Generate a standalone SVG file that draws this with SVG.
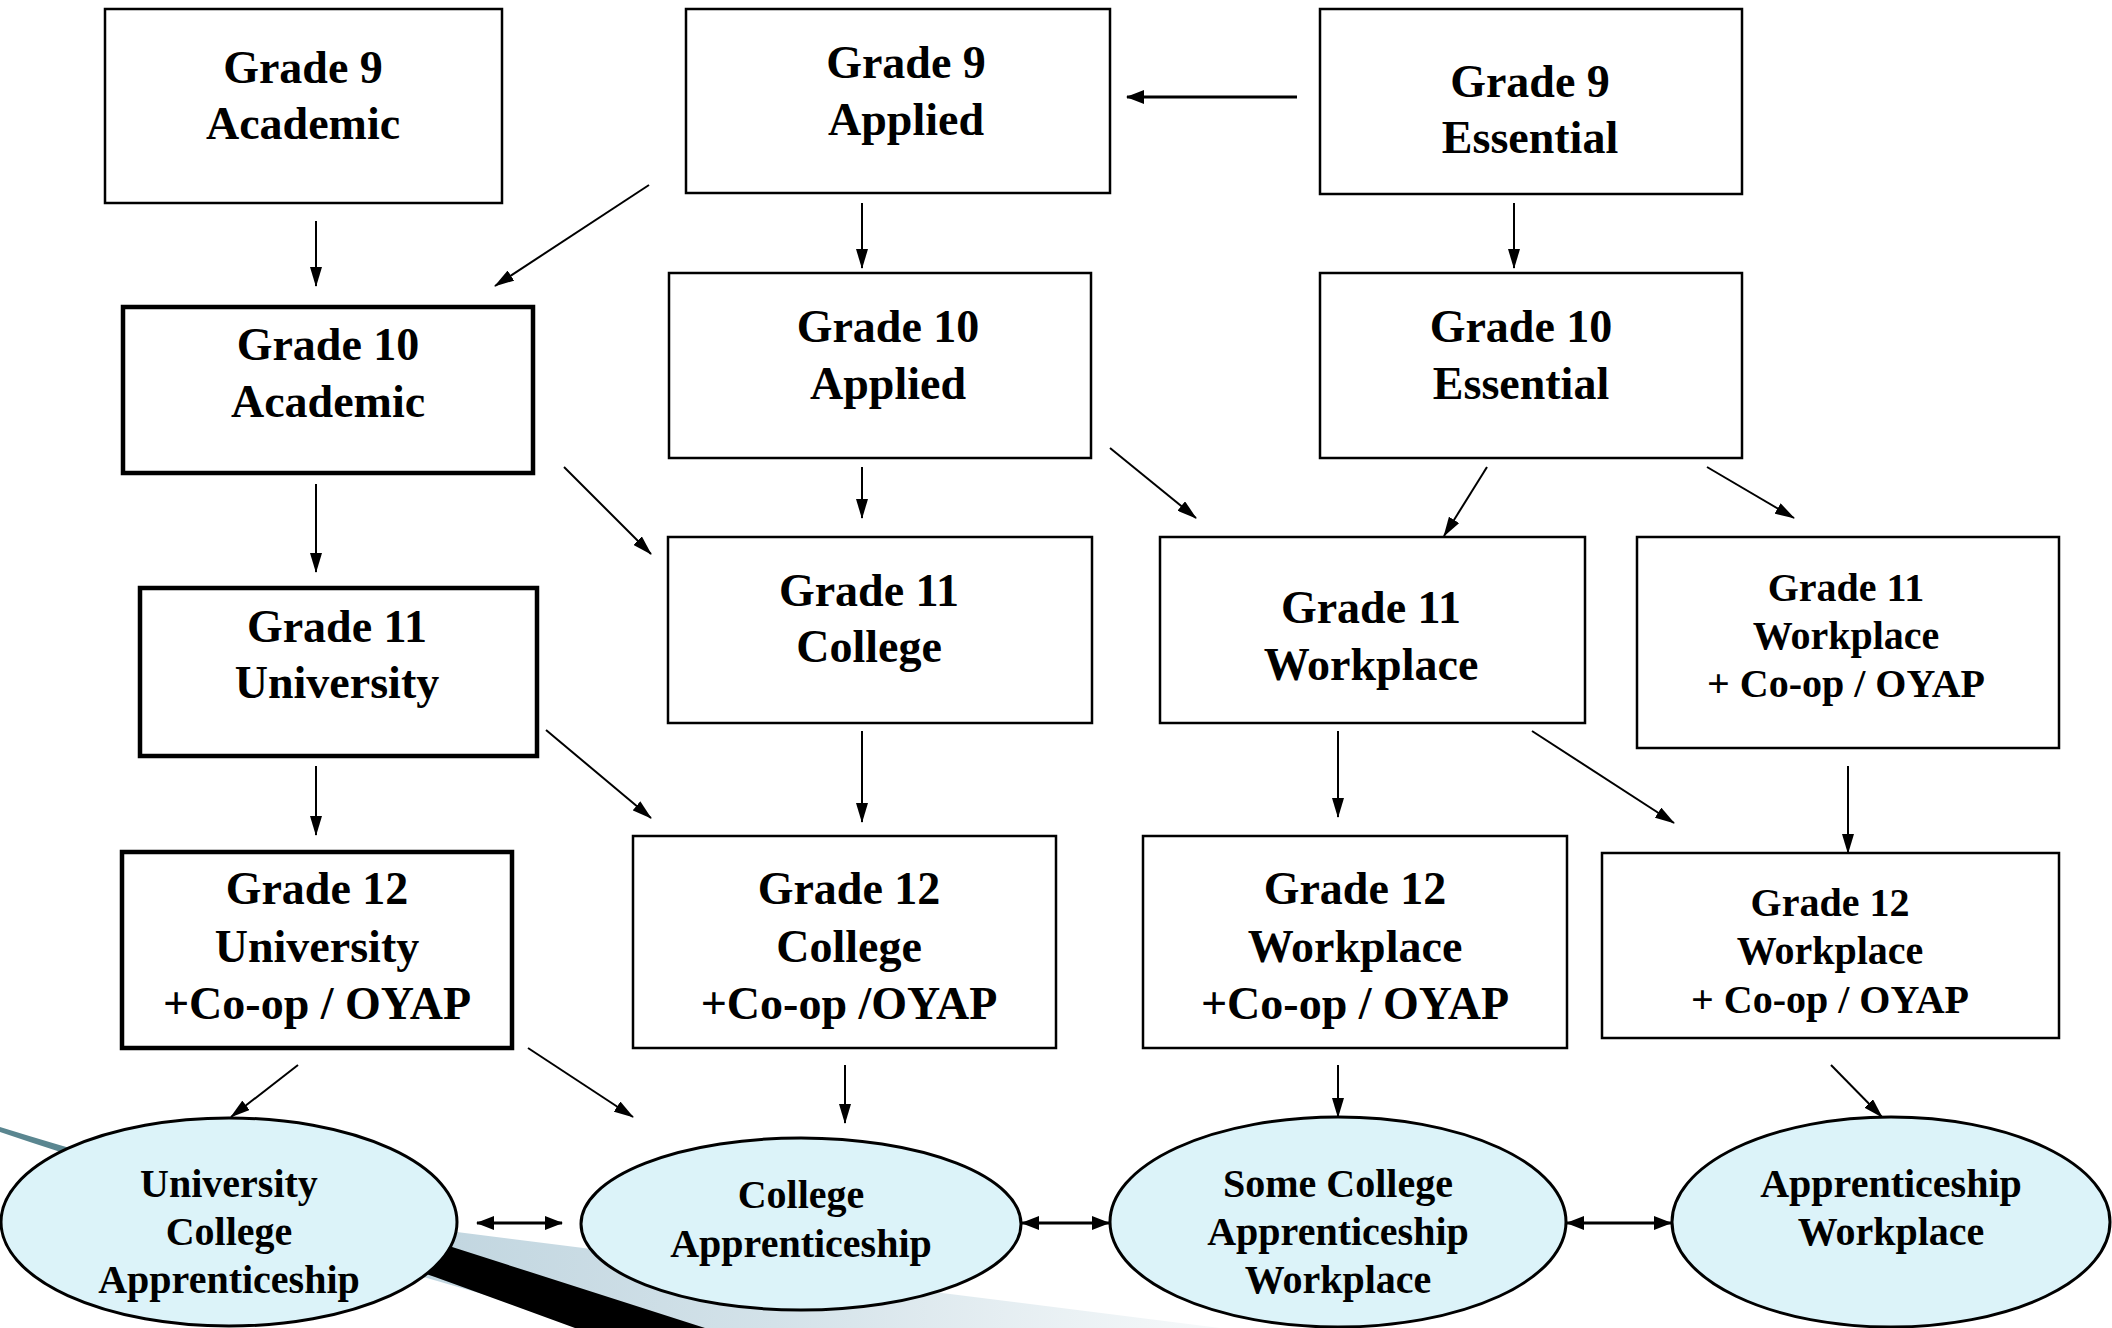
<svg xmlns="http://www.w3.org/2000/svg" width="2112" height="1328" viewBox="0 0 2112 1328">
<style>
.box{fill:#ffffff;stroke:#000000;stroke-width:2.5}
.thick{stroke-width:4.5}
.ell{fill:#dcf3f9;stroke:#000000;stroke-width:3}
.t46{font-family:"Liberation Serif","Times New Roman",serif;font-weight:bold;font-size:46px;text-anchor:middle;fill:#000000}
.t40{font-family:"Liberation Serif","Times New Roman",serif;font-weight:bold;font-size:40px;text-anchor:middle;fill:#000000}
.c{stroke:#000000;stroke-width:2;fill:none;marker-end:url(#ah)}
.c3{stroke:#000000;stroke-width:3;fill:none;marker-end:url(#ah2)}
.d{stroke:#000000;stroke-width:3;fill:none;marker-start:url(#ah2);marker-end:url(#ah2)}
</style>
<defs>
<marker id="ah" markerUnits="userSpaceOnUse" markerWidth="20" markerHeight="12" refX="19" refY="6" orient="auto"><path d="M0,0 L20,6 L0,12 z" fill="#000000"/></marker>
<marker id="ah2" markerUnits="userSpaceOnUse" markerWidth="18" markerHeight="14" refX="17" refY="7" orient="auto-start-reverse"><path d="M0,0 L18,7 L0,14 z" fill="#000000"/></marker>
<linearGradient id="lb" x1="330" y1="0" x2="1220" y2="0" gradientUnits="userSpaceOnUse">
<stop offset="0" stop-color="#bcd2dd"/>
<stop offset="0.5" stop-color="#d3e2e9"/>
<stop offset="1" stop-color="#f6f9fa"/>
</linearGradient>
</defs>
<rect x="0" y="0" width="2112" height="1328" fill="#ffffff"/>
<g id="background">
<path d="M0,1127 Q170,1180 380,1228 L380,1240 Q170,1190 0,1132 z" fill="#5a8690"/>
<polygon points="330,1212 449,1231 1220,1328 600,1328 330,1250" fill="url(#lb)"/>
<polygon points="370,1222 449,1246 705,1328 575,1328 435,1277 370,1255" fill="#000000"/>
</g>
<g id="connectors">
<line class="c3" x1="1297" y1="97" x2="1127" y2="97"/>
<line class="c" x1="316" y1="221" x2="316" y2="286"/>
<line class="c" x1="649" y1="185" x2="495" y2="286"/>
<line class="c" x1="862" y1="203" x2="862" y2="268"/>
<line class="c" x1="1514" y1="203" x2="1514" y2="268"/>
<line class="c" x1="316" y1="484" x2="316" y2="572"/>
<line class="c" x1="564" y1="467" x2="651" y2="554"/>
<line class="c" x1="862" y1="467" x2="862" y2="518"/>
<line class="c" x1="1110" y1="448" x2="1196" y2="518"/>
<line class="c" x1="1487" y1="467" x2="1444" y2="536"/>
<line class="c" x1="1707" y1="467" x2="1794" y2="518"/>
<line class="c" x1="316" y1="766" x2="316" y2="835"/>
<line class="c" x1="546" y1="730" x2="651" y2="818"/>
<line class="c" x1="862" y1="731" x2="862" y2="822"/>
<line class="c" x1="1338" y1="731" x2="1338" y2="817"/>
<line class="c" x1="1532" y1="731" x2="1674" y2="823"/>
<line class="c" x1="1848" y1="766" x2="1848" y2="853"/>
<line class="c" x1="298" y1="1065" x2="231" y2="1117"/>
<line class="c" x1="528" y1="1048" x2="633" y2="1117"/>
<line class="c" x1="845" y1="1065" x2="845" y2="1123"/>
<line class="c" x1="1338" y1="1065" x2="1338" y2="1117"/>
<line class="c" x1="1831" y1="1065" x2="1882" y2="1117"/>
<line class="d" x1="477" y1="1223" x2="562" y2="1223"/>
<line class="d" x1="1022" y1="1223" x2="1109" y2="1223"/>
<line class="d" x1="1567" y1="1223" x2="1671" y2="1223"/>
</g>
<g id="g9-academic"><rect class="box" x="105" y="9" width="397" height="194"/><text class="t46" x="303" y="83">Grade 9</text><text class="t46" x="303" y="139">Academic</text></g>
<g id="g9-applied"><rect class="box" x="686" y="9" width="424" height="184"/><text class="t46" x="906" y="78">Grade 9</text><text class="t46" x="906" y="135">Applied</text></g>
<g id="g9-essential"><rect class="box" x="1320" y="9" width="422" height="185"/><text class="t46" x="1530" y="97">Grade 9</text><text class="t46" x="1530" y="153">Essential</text></g>
<g id="g10-academic"><rect class="box thick" x="123" y="307" width="410" height="166"/><text class="t46" x="328" y="360">Grade 10</text><text class="t46" x="328" y="417">Academic</text></g>
<g id="g10-applied"><rect class="box" x="669" y="273" width="422" height="185"/><text class="t46" x="888" y="342">Grade 10</text><text class="t46" x="888" y="399">Applied</text></g>
<g id="g10-essential"><rect class="box" x="1320" y="273" width="422" height="185"/><text class="t46" x="1521" y="342">Grade 10</text><text class="t46" x="1521" y="399">Essential</text></g>
<g id="g11-university"><rect class="box thick" x="140" y="588" width="397" height="168"/><text class="t46" x="337" y="642">Grade 11</text><text class="t46" x="337" y="698">University</text></g>
<g id="g11-college"><rect class="box" x="668" y="537" width="424" height="186"/><text class="t46" x="869" y="606">Grade 11</text><text class="t46" x="869" y="662">College</text></g>
<g id="g11-workplace"><rect class="box" x="1160" y="537" width="425" height="186"/><text class="t46" x="1371" y="623">Grade 11</text><text class="t46" x="1371" y="680">Workplace</text></g>
<g id="g11-workplace-coop"><rect class="box" x="1637" y="537" width="422" height="211"/><text class="t40" x="1846" y="601">Grade 11</text><text class="t40" x="1846" y="649">Workplace</text><text class="t40" x="1846" y="697">+ Co-op / OYAP</text></g>
<g id="g12-university"><rect class="box thick" x="122" y="852" width="390" height="196"/><text class="t46" x="317" y="904">Grade 12</text><text class="t46" x="317" y="962">University</text><text class="t46" x="317" y="1019">+Co-op / OYAP</text></g>
<g id="g12-college"><rect class="box" x="633" y="836" width="423" height="212"/><text class="t46" x="849" y="904">Grade 12</text><text class="t46" x="849" y="962">College</text><text class="t46" x="849" y="1019">+Co-op /OYAP</text></g>
<g id="g12-workplace"><rect class="box" x="1143" y="836" width="424" height="212"/><text class="t46" x="1355" y="904">Grade 12</text><text class="t46" x="1355" y="962">Workplace</text><text class="t46" x="1355" y="1019">+Co-op / OYAP</text></g>
<g id="g12-workplace-coop"><rect class="box" x="1602" y="853" width="457" height="185"/><text class="t40" x="1830" y="916">Grade 12</text><text class="t40" x="1830" y="964">Workplace</text><text class="t40" x="1830" y="1013">+ Co-op / OYAP</text></g>
<g id="dest-university"><ellipse class="ell" cx="229" cy="1222" rx="228" ry="104"/><text class="t40" x="229" y="1197">University</text><text class="t40" x="229" y="1245">College</text><text class="t40" x="229" y="1293">Apprenticeship</text></g>
<g id="dest-college"><ellipse class="ell" cx="801" cy="1224" rx="220" ry="86"/><text class="t40" x="801" y="1208">College</text><text class="t40" x="801" y="1257">Apprenticeship</text></g>
<g id="dest-some-college"><ellipse class="ell" cx="1338" cy="1222" rx="228" ry="105"/><text class="t40" x="1338" y="1197">Some College</text><text class="t40" x="1338" y="1245">Apprenticeship</text><text class="t40" x="1338" y="1293">Workplace</text></g>
<g id="dest-apprenticeship"><ellipse class="ell" cx="1891" cy="1222" rx="219" ry="105"/><text class="t40" x="1891" y="1197">Apprenticeship</text><text class="t40" x="1891" y="1245">Workplace</text></g>
</svg>
